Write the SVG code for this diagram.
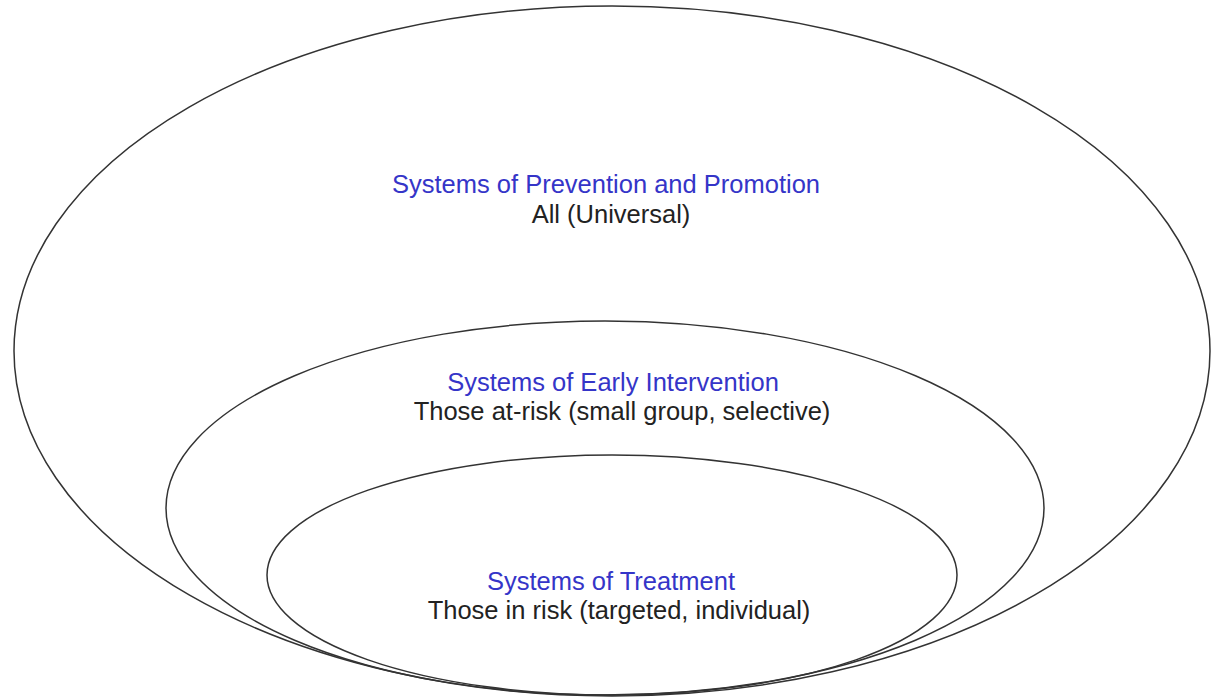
<svg xmlns="http://www.w3.org/2000/svg" width="1214" height="698" viewBox="0 0 1214 698">
<style>
.ring{fill:none;stroke:#333;stroke-width:1.5}
.t{font-family:"Liberation Sans",Arial,sans-serif;font-size:25.5px;text-anchor:middle}
.b{fill:#3535c8}
.k{fill:#222}
</style>
<rect width="1214" height="698" fill="#fff"/>
<g id="outer">
<ellipse class="ring" cx="612" cy="351" rx="598" ry="345"/>
<text class="t b" x="606" y="193">Systems of Prevention and Promotion</text>
<text class="t k" x="611" y="223">All (Universal)</text>
</g>
<g id="middle">
<ellipse class="ring" cx="605" cy="508" rx="439" ry="187"/>
<text class="t b" x="613" y="391">Systems of Early Intervention</text>
<text class="t k" x="622" y="420">Those at-risk (small group, selective)</text>
</g>
<g id="inner">
<ellipse class="ring" cx="612" cy="575" rx="345" ry="120"/>
<text class="t b" x="611" y="590">Systems of Treatment</text>
<text class="t k" x="619" y="619">Those in risk (targeted, individual)</text>
</g>
<g id="connectors"></g>
</svg>
